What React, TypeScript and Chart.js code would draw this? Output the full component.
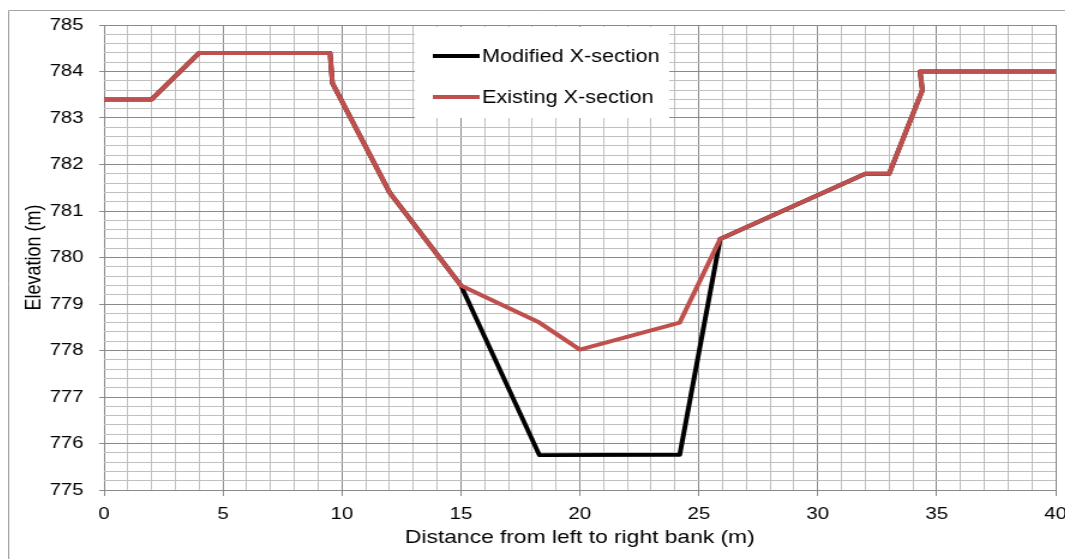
import React, { useEffect, useRef } from 'react';
import { Chart, registerables } from 'chart.js';
Chart.register(...registerables);

// ---- data ----
const seriesNames = ['Modified X-section', 'Existing X-section'];
const modifiedX = [0, 2, 4, 9.5, 9.6, 12, 15, 18.3, 24.2, 25.9, 32, 33, 34.4, 34.3, 40];
const modifiedY = [783.4, 783.4, 784.4, 784.4, 783.75, 781.4, 779.4, 775.75, 775.76, 780.4, 781.8, 781.8, 783.6, 784.0, 784.0];
const existingX = [0, 2, 4, 9.5, 9.6, 12, 15, 18.3, 20, 24.2, 25.9, 32, 33, 34.4, 34.3, 40];
const existingY = [783.4, 783.4, 784.4, 784.4, 783.75, 781.4, 779.4, 778.6, 778.02, 778.6, 780.4, 781.8, 781.8, 783.6, 784.0, 784.0];
const xTitle = 'Distance from left to right bank (m)';
const yTitle = 'Elevation (m)';
const xMin = 0, xMax = 40, xStep = 1, xLabelEvery = 5;
const yMin = 775, yMax = 785, yStep = 0.2, yLabelEvery = 1;

// ---- layout ----
const SX = 1.2;
const CW = 888;
const CH = 551;
const FONT = "'Liberation Sans', Arial, Helvetica, sans-serif";
const MAJOR = '#8a8a8a';
const MINOR = '#c0c0c0';

const isMult = (v: number, m: number) => Math.abs(v / m - Math.round(v / m)) < 1e-6;
const range = (a: number, b: number, s: number) => {
  const out: number[] = [];
  const n = Math.round((b - a) / s);
  for (let i = 0; i <= n; i++) out.push(Math.round((a + i * s) * 1000) / 1000);
  return out;
};

const framePlugin = {
  id: 'frame',
  beforeDraw(chart: any) {
    const { ctx } = chart;
    ctx.save();
    ctx.fillStyle = '#ffffff';
    ctx.fillRect(0, 0, chart.width, chart.height);
    ctx.strokeStyle = '#a6a6a6';
    ctx.lineWidth = 1;
    ctx.beginPath();
    ctx.moveTo(0.5, chart.height);
    ctx.lineTo(0.5, 2.5);
    ctx.lineTo(chart.width, 2.5);
    ctx.stroke();
    ctx.restore();
  },
};

const legendPlugin = {
  id: 'boxLegend',
  afterDatasetsDraw(chart: any) {
    const { ctx } = chart;
    const ds = chart.data.datasets;
    ctx.save();
    ctx.fillStyle = '#ffffff';
    ctx.fillRect(339, 19, 212, 91);
    const rows = [48, 89];
    ds.forEach((d: any, i: number) => {
      const y = rows[i];
      ctx.strokeStyle = d.borderColor;
      ctx.lineWidth = 4;
      ctx.beginPath();
      ctx.moveTo(354, y);
      ctx.lineTo(393, y);
      ctx.stroke();
      ctx.fillStyle = '#000';
      ctx.font = `18px ${FONT}`;
      ctx.textBaseline = 'middle';
      ctx.textAlign = 'left';
      ctx.fillText(d.label, 395, y + 1);
    });
    ctx.restore();
  },
};

export default function App() {
  const ref = useRef<HTMLCanvasElement>(null);
  useEffect(() => {
    document.documentElement.style.overflow = 'hidden';
    document.body.style.overflow = 'hidden';
    const toPts = (xs: number[], ys: number[]) => xs.map((x, i) => ({ x, y: ys[i] }));
    const chart = new Chart(ref.current!, {
      type: 'line',
      data: {
        datasets: [
          {
            label: seriesNames[0],
            data: toPts(modifiedX, modifiedY),
            borderColor: '#000000',
            borderWidth: 4,
            order: 1,
          },
          {
            label: seriesNames[1],
            data: toPts(existingX, existingY),
            borderColor: '#C0504D',
            borderWidth: 4,
            order: 0,
          },
        ],
      },
      options: {
        animation: false,
        responsive: true,
        maintainAspectRatio: false,
        layout: { padding: { left: 0, right: 15, top: 17, bottom: 0 } },
        elements: {
          point: { radius: 0, hoverRadius: 0 },
          line: { tension: 0, borderJoinStyle: 'round', borderCapStyle: 'butt' },
        },
        plugins: { legend: { display: false }, tooltip: { enabled: false } },
        scales: {
          x: {
            type: 'linear',
            min: xMin,
            max: xMax,
            afterBuildTicks: (s: any) => {
              s.ticks = range(xMin, xMax, xStep).map((v) => ({ value: v }));
            },
            afterFit: (s: any) => {
              s.height = CH - 482;
              s.paddingLeft = 0;
              s.paddingRight = 0;
            },
            border: { display: false },
            grid: {
              lineWidth: 1,
              tickLength: 6,
              color: (c: any) => (c.tick && isMult(c.tick.value, xLabelEvery) ? MAJOR : MINOR),
              tickColor: (c: any) => (c.tick && isMult(c.tick.value, xLabelEvery) ? MAJOR : 'rgba(0,0,0,0)'),
            },
            ticks: {
              autoSkip: false,
              maxRotation: 0,
              padding: 8,
              color: '#000',
              font: { size: 17, family: FONT },
              callback: (v: any) => (isMult(Number(v), xLabelEvery) ? String(Math.round(Number(v))) : ''),
            },
            title: {
              display: true,
              text: xTitle,
              color: '#000',
              font: { size: 19, family: FONT },
              padding: { top: 0, bottom: 10 },
            },
          },
          y: {
            type: 'linear',
            min: yMin,
            max: yMax,
            afterBuildTicks: (s: any) => {
              s.ticks = range(yMin, yMax, yStep).map((v) => ({ value: v }));
            },
            afterFit: (s: any) => {
              s.width = 80;
              s.paddingTop = 0;
              s.paddingBottom = 0;
            },
            border: { display: false },
            grid: {
              lineWidth: 1,
              tickLength: 4,
              color: (c: any) => (c.tick && isMult(c.tick.value, yLabelEvery) ? MAJOR : MINOR),
              tickColor: (c: any) => (c.tick && isMult(c.tick.value, yLabelEvery) ? MAJOR : 'rgba(0,0,0,0)'),
            },
            ticks: {
              autoSkip: false,
              padding: 13,
              color: '#000',
              font: { size: 17, family: FONT },
              callback: (v: any) => (isMult(Number(v), yLabelEvery) ? String(Math.round(Number(v))) : ''),
            },
            title: {
              display: true,
              text: yTitle,
              color: '#000',
              font: { size: 18, family: FONT },
              padding: { top: 11, bottom: 0 },
            },
          },
        },
      },
      plugins: [framePlugin, legendPlugin],
    } as any);
    return () => chart.destroy();
  }, []);
  return (
    <div
      style={{
        width: CW,
        height: CH,
        transform: `scaleX(${SX})`,
        transformOrigin: '0 0',
      }}
    >
      <canvas ref={ref} style={{ display: 'block' }} />
    </div>
  );
}
